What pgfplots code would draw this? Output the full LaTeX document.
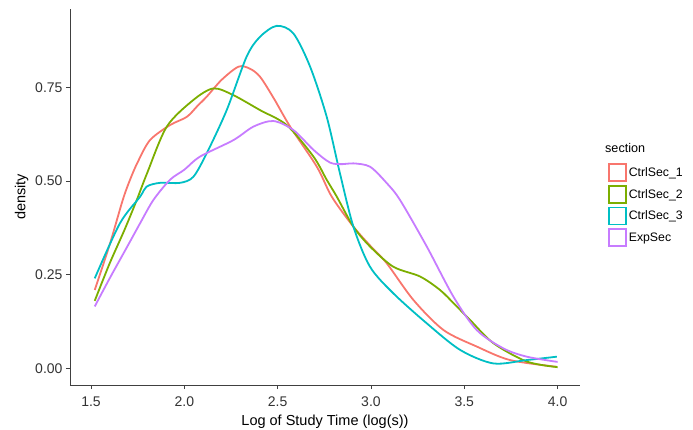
\documentclass[border=0pt]{standalone}
\usepackage{pgfplots}
\pgfplotsset{compat=1.18}
\usepackage{fontspec}
\setmainfont{Liberation Sans}
\definecolor{c1}{HTML}{F8766D}
\definecolor{c2}{HTML}{7CAE00}
\definecolor{c3}{HTML}{00BFC4}
\definecolor{c4}{HTML}{C77CFF}
\begin{document}
\begin{tikzpicture}
\begin{axis}[
  name=ax,
  scale only axis,
  width=510pt, height=376pt,
  xmin=1.3875, xmax=4.12,
  ymin=-0.0446, ymax=0.959,
  axis x line*=bottom, axis y line*=left,
  axis line style={black!75, line width=0.8pt},
  tick style={black!75, line width=0.8pt},
  tick align=outside,
  major tick length=4pt,
  xtick={1.5,2.0,2.5,3.0,3.5,4.0},
  ytick={0,0.25,0.5,0.75},
  /pgf/number format/assume math mode=true,
  xticklabel style={/pgf/number format/fixed,/pgf/number format/fixed zerofill,/pgf/number format/precision=1, yshift=-4pt},
  yticklabel style={/pgf/number format/fixed,/pgf/number format/fixed zerofill,/pgf/number format/precision=2},
  ticklabel style={font=\fontsize{14}{15}\selectfont, text=black!80},
  xlabel={Log of Study Time (log(s))},
  ylabel={density},
  label style={font=\fontsize{14.5}{16}\selectfont, text=black},
  xlabel style={yshift=-2pt},
  ylabel style={yshift=0pt},
  legend style={at={(axis description cs:1.049,0.595)}, anchor=north west, draw=none, fill=none,
    font=\fontsize{12.3}{14}\selectfont, row sep=3pt, cells={anchor=west}},
  legend image code/.code={\draw[line width=1.6pt] (0pt,-8.5pt) rectangle (17pt,8.5pt);},
  every axis plot/.append style={line width=1.8pt, smooth, tension=0.5},
  clip=false,
]
\addplot[c1] coordinates {(1.52,0.209) (1.6,0.33) (1.67,0.449) (1.709,0.503) (1.75,0.55) (1.816,0.609) (1.923,0.649) (2.013,0.671) (2.07,0.70) (2.12,0.725) (2.2,0.77) (2.29,0.805) (2.35,0.80) (2.406,0.778) (2.48,0.72) (2.567,0.645) (2.71,0.538) (2.79,0.458) (2.906,0.378) (3.0,0.325) (3.085,0.280) (3.228,0.182) (3.389,0.102) (3.567,0.058) (3.745,0.022) (3.996,0.004)};
\addlegendentry{CtrlSec\_1}
\addplot[c2] coordinates {(1.52,0.18) (1.6,0.28) (1.68,0.37) (1.745,0.449) (1.8,0.52) (1.906,0.645) (2.048,0.716) (2.156,0.747) (2.263,0.729) (2.406,0.689) (2.549,0.649) (2.692,0.565) (2.763,0.503) (2.817,0.458) (2.906,0.378) (2.995,0.325) (3.12,0.271) (3.263,0.245) (3.37,0.209) (3.45,0.17) (3.531,0.129) (3.656,0.067) (3.835,0.018) (4.0,0.003)};
\addlegendentry{CtrlSec\_2}
\addplot[c3] coordinates {(1.52,0.240) (1.655,0.387) (1.763,0.458) (1.798,0.485) (1.87,0.495) (1.977,0.495) (2.048,0.511) (2.12,0.574) (2.227,0.689) (2.334,0.832) (2.406,0.885) (2.495,0.914) (2.584,0.894) (2.674,0.805) (2.763,0.671) (2.834,0.520) (2.906,0.378) (2.995,0.271) (3.12,0.200) (3.299,0.120) (3.478,0.049) (3.656,0.013) (3.835,0.022) (3.996,0.031)};
\addlegendentry{CtrlSec\_3}
\addplot[c4] coordinates {(1.52,0.165) (1.6,0.24) (1.7,0.33) (1.763,0.387) (1.834,0.449) (1.923,0.503) (2.0,0.53) (2.084,0.565) (2.263,0.609) (2.37,0.645) (2.477,0.660) (2.584,0.636) (2.692,0.583) (2.781,0.549) (2.85,0.545) (2.906,0.547) (2.995,0.538) (3.085,0.494) (3.156,0.449) (3.299,0.325) (3.442,0.191) (3.567,0.102) (3.71,0.053) (3.835,0.031) (4.0,0.017)};
\addlegendentry{ExpSec}
\node[anchor=south west, font=\fontsize{12.6}{14}\selectfont, inner sep=0pt] at (axis description cs:1.049,0.617) {section};
\end{axis}
\pgfresetboundingbox
\path[use as bounding box] ([xshift=-70pt,yshift=-44pt]ax.south west) rectangle ([xshift=113pt,yshift=9pt]ax.north east);
\end{tikzpicture}
\end{document}
